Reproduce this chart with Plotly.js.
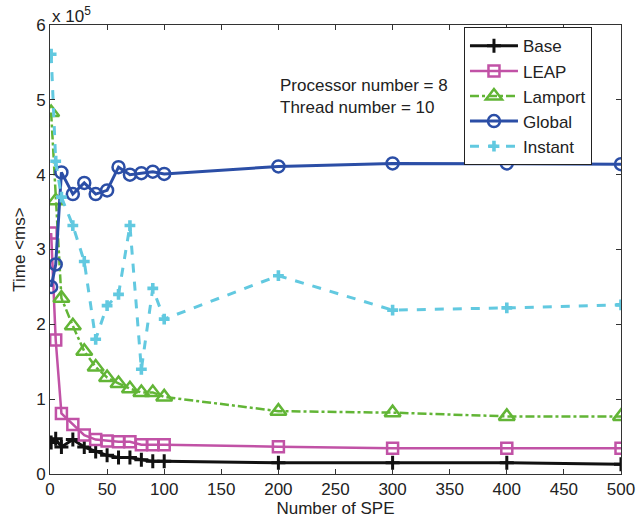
<!DOCTYPE html>
<html>
<head>
<meta charset="utf-8">
<script src="https://cdn.plot.ly/plotly-3.0.1.min.js"></script>
<style>html,body{margin:0;padding:0;background:#fff;}#chart{width:637px;height:519px;}</style>
</head>
<body>
<div id="chart"></div>
<script>
// Number of SPE
const spe = [1, 5, 10, 20, 30, 40, 50, 60, 70, 80, 90, 100, 200, 300, 400, 500];
// Time values in units of 10^5 ms
const base    = [0.42, 0.47, 0.36, 0.46, 0.36, 0.30, 0.25, 0.22, 0.22, 0.19, 0.17, 0.17, 0.15, 0.15, 0.15, 0.13];
const leap    = [3.22, 1.79, 0.81, 0.66, 0.52, 0.46, 0.44, 0.43, 0.43, 0.39, 0.39, 0.39, 0.365, 0.345, 0.345, 0.345];
const lamport = [4.83, 3.65, 2.35, 1.98, 1.64, 1.43, 1.29, 1.21, 1.14, 1.09, 1.09, 1.03, 0.84, 0.82, 0.77, 0.77];
const globalT = [2.50, 2.80, 4.03, 3.74, 3.89, 3.74, 3.79, 4.10, 4.00, 4.02, 4.04, 4.01, 4.11, 4.15, 4.15, 4.14];
const instant = [5.61, 4.18, 3.70, 3.32, 2.84, 1.80, 2.25, 2.40, 3.32, 1.40, 2.48, 2.07, 2.65, 2.19, 2.22, 2.26];
const seriesNames = ['Base', 'LEAP', 'Lamport', 'Global', 'Instant'];
const xTicks = [0, 50, 100, 150, 200, 250, 300, 350, 400, 450, 500];
const yTicks = [0, 1, 2, 3, 4, 5, 6];
const scale = 1e5;

const toMs = a => a.map(v => v * scale);
const F = 'Liberation Sans, Arial, sans-serif';
const FS = 17;

const traces = [
  {x: spe, y: toMs(base), name: seriesNames[0], mode: 'lines+markers',
   line: {color: '#111111', width: 3},
   marker: {symbol: 'cross-thin', size: 10, color: '#111111', line: {color: '#111111', width: 3}}},
  {x: spe, y: toMs(leap), name: seriesNames[1], mode: 'lines+markers',
   line: {color: '#c152a6', width: 2.5},
   marker: {symbol: 'square-open', size: 11, color: '#c152a6', line: {color: '#c152a6', width: 2.5}}},
  {x: spe, y: toMs(lamport), name: seriesNames[2], mode: 'lines+markers',
   line: {color: '#62b536', width: 2.5, dash: 'dashdot'},
   marker: {symbol: 'triangle-up-open', size: 14, color: '#62b536', line: {color: '#62b536', width: 2.5}}},
  {x: spe, y: toMs(globalT), name: seriesNames[3], mode: 'lines+markers',
   line: {color: '#2b4ea6', width: 3},
   marker: {symbol: 'circle-open', size: 12, color: '#2b4ea6', line: {color: '#2b4ea6', width: 2.5}}},
  {x: spe, y: toMs(instant), name: seriesNames[4], mode: 'lines+markers',
   line: {color: '#62c9e0', width: 3, dash: 'dash'},
   marker: {symbol: 'cross', size: 9, color: '#62c9e0'}}
];

const layout = {
  width: 637, height: 519,
  margin: {l: 50, r: 16, t: 25, b: 45},
  paper_bgcolor: '#fff', plot_bgcolor: '#fff',
  font: {family: F, size: FS, color: '#222'},
  showlegend: true,
  legend: {x: 0.725, y: 0.995, xanchor: 'left', yanchor: 'top',
           bgcolor: '#fff', bordercolor: '#222', borderwidth: 1, itemwidth: 48,
           font: {family: F, size: FS, color: '#222'}},
  xaxis: {range: [0, 500], tickvals: xTicks, ticktext: xTicks.map(String),
          ticks: 'inside', ticklen: 5, tickcolor: '#333', showgrid: false, zeroline: false,
          showline: true, linecolor: '#333', linewidth: 1, mirror: 'ticks',
          title: {text: 'Number of SPE', font: {family: F, size: FS, color: '#222'}, standoff: 2},
          tickfont: {family: F, size: FS, color: '#222'}},
  yaxis: {range: [0, 6 * scale], tickvals: yTicks.map(v => v * scale), ticktext: yTicks.map(String),
          ticks: 'inside', ticklen: 5, tickcolor: '#333', showgrid: false, zeroline: false,
          showline: true, linecolor: '#333', linewidth: 1, mirror: 'ticks',
          title: {text: 'Time &lt;ms&gt;', font: {family: F, size: FS, color: '#222'}, standoff: 6},
          tickfont: {family: F, size: FS, color: '#222'}},
  annotations: [
    {xref: 'paper', yref: 'paper', x: 0.0, y: 1.0, xanchor: 'left', yanchor: 'bottom', yshift: -3,
     text: 'x 10<sup>5</sup>', showarrow: false, font: {family: F, size: FS, color: '#222'}},
    {xref: 'paper', yref: 'paper', x: 0.399, y: 0.865, xanchor: 'left', yanchor: 'middle',
     text: 'Processor number = 8', showarrow: false, font: {family: F, size: FS, color: '#222'}},
    {xref: 'paper', yref: 'paper', x: 0.399, y: 0.817, xanchor: 'left', yanchor: 'middle',
     text: 'Thread number = 10', showarrow: false, font: {family: F, size: FS, color: '#222'}}
  ]
};

Plotly.newPlot('chart', traces, layout, {displayModeBar: false, staticPlot: true});
</script>
</body>
</html>
